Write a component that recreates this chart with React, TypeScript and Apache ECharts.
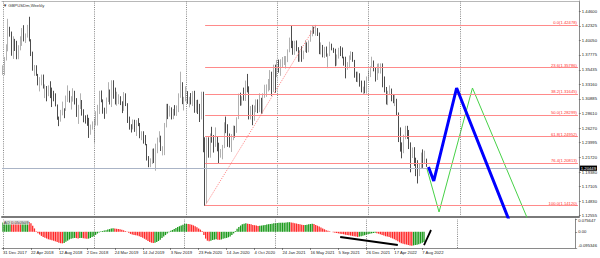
import { useEffect, useRef } from 'react';
import * as echarts from 'echarts';

// ---- data (weekly GBPUSD bars, index 0 = week of 31 Dec 2017) ----
const firstOpen = 1.3510;
const closes = [
  1.3565, 1.3725, 1.3865, 1.4155, 1.4140, 1.3820, 1.4020, 1.3940, 1.3770, 1.3850,
  1.3950, 1.4140, 1.4010, 1.4090, 1.4240, 1.4010, 1.3775, 1.3540, 1.3540, 1.3465,
  1.3310, 1.3355, 1.3410, 1.3265, 1.3265, 1.3200, 1.3285, 1.3235, 1.3135, 1.3115,
  1.2975, 1.2760, 1.2740, 1.2835, 1.2925, 1.2920, 1.3070, 1.3070, 1.3035, 1.3115,
  1.3155, 1.3040, 1.2815, 1.2970, 1.3000, 1.2830, 1.2805, 1.2740, 1.2730, 1.2585,
  1.2635, 1.2720, 1.2750, 1.2840, 1.2885, 1.3195, 1.3075, 1.2940, 1.2890, 1.3045,
  1.3190, 1.3005, 1.3290, 1.3210, 1.3035, 1.3050, 1.3085, 1.3000, 1.2915, 1.3185,
  1.3005, 1.2720, 1.2655, 1.2625, 1.2735, 1.2585, 1.2740, 1.2700, 1.2520, 1.2575,
  1.2475, 1.2375, 1.2165, 1.2035, 1.2145, 1.2290, 1.2160, 1.2290, 1.2475, 1.2475,
  1.2290, 1.2330, 1.2665, 1.2985, 1.2830, 1.2940, 1.2780, 1.2895, 1.2840, 1.2935,
  1.3145, 1.3330, 1.3015, 1.3080, 1.3080, 1.3065, 1.3075, 1.3070, 1.3200, 1.2890,
  1.3050, 1.2960, 1.2825, 1.3050, 1.2275, 1.1630, 1.2465, 1.2270, 1.2520, 1.2495,
  1.2365, 1.2485, 1.2395, 1.2130, 1.2200, 1.2345, 1.2660, 1.2555, 1.2350, 1.2335,
  1.2485, 1.2615, 1.2565, 1.2790, 1.3085, 1.3055, 1.3090, 1.3085, 1.3355, 1.3275,
  1.2790, 1.2915, 1.2745, 1.2940, 1.3050, 1.2915, 1.3070, 1.2945, 1.3150, 1.3190,
  1.3285, 1.3330, 1.3435, 1.3225, 1.3585, 1.3550, 1.3670, 1.3565, 1.3590, 1.3685,
  1.3705, 1.3730, 1.3850, 1.4010, 1.3925, 1.3840, 1.3930, 1.3865, 1.3790, 1.3830,
  1.3710, 1.3840, 1.3875, 1.3820, 1.3995, 1.4085, 1.4185, 1.4150, 1.4155, 1.4110,
  1.3805, 1.3885, 1.3825, 1.3890, 1.3755, 1.3760, 1.3895, 1.3875, 1.3865, 1.3620,
  1.3760, 1.3865, 1.3835, 1.3735, 1.3675, 1.3585, 1.3615, 1.3745, 1.3755, 1.3680,
  1.3495, 1.3410, 1.3435, 1.3320, 1.3265, 1.3265, 1.3235, 1.3400, 1.3525, 1.3590,
  1.3680, 1.3550, 1.3395, 1.3530, 1.3560, 1.3590, 1.3410, 1.3200, 1.3030, 1.3180,
  1.3185, 1.3110, 1.3035, 1.3065, 1.2835, 1.2575, 1.2335, 1.2250, 1.2490, 1.2625,
  1.2490, 1.2310, 1.2260, 1.2265, 1.2090, 1.2030, 1.1870, 1.2005, 1.2165, 1.2075,
  1.2140, 1.2045,
];
const highs = [
  1.3615, 1.3745, 1.3945, 1.4345, 1.4220, 1.4145, 1.4070, 1.4030, 1.4000, 1.3930,
  1.4070, 1.4200, 1.4245, 1.4115, 1.4250, 1.4377, 1.4025, 1.3830, 1.3620, 1.3615,
  1.3480, 1.3430, 1.3470, 1.3470, 1.3315, 1.3290, 1.3300, 1.3365, 1.3265, 1.3215,
  1.3175, 1.3000, 1.2810, 1.2915, 1.3045, 1.2940, 1.3140, 1.3300, 1.3215, 1.3130,
  1.3255, 1.3215, 1.3100, 1.2995, 1.3175, 1.3070, 1.2925, 1.2830, 1.2840, 1.2790,
  1.2685, 1.2735, 1.2780, 1.2895, 1.2995, 1.3215, 1.3220, 1.3080, 1.2950, 1.3110,
  1.3350, 1.3235, 1.3380, 1.3380, 1.3265, 1.3200, 1.3160, 1.3130, 1.3050, 1.3195,
  1.3175, 1.3020, 1.2810, 1.2690, 1.2765, 1.2760, 1.2755, 1.2785, 1.2710, 1.2580,
  1.2580, 1.2520, 1.2380, 1.2190, 1.2155, 1.2305, 1.2310, 1.2385, 1.2480, 1.2580,
  1.2510, 1.2345, 1.2710, 1.3010, 1.3010, 1.2980, 1.2955, 1.2930, 1.2990, 1.2985,
  1.3175, 1.3515, 1.3350, 1.3120, 1.3285, 1.3210, 1.3120, 1.3180, 1.3210, 1.3215,
  1.3070, 1.3075, 1.3010, 1.3200, 1.3200, 1.2485, 1.2485, 1.2485, 1.2545, 1.2650,
  1.2520, 1.2640, 1.2500, 1.2400, 1.2300, 1.2365, 1.2720, 1.2810, 1.2690, 1.2545,
  1.2535, 1.2670, 1.2665, 1.2800, 1.3170, 1.3185, 1.3130, 1.3265, 1.3375, 1.3480,
  1.3285, 1.2975, 1.2995, 1.2985, 1.3080, 1.3080, 1.3175, 1.3105, 1.3175, 1.3310,
  1.3315, 1.3400, 1.3540, 1.3515, 1.3625, 1.3625, 1.3700, 1.3705, 1.3710, 1.3745,
  1.3760, 1.3760, 1.3865, 1.4050, 1.4241, 1.4000, 1.4000, 1.4005, 1.3900, 1.3850,
  1.3915, 1.3845, 1.4010, 1.3975, 1.4005, 1.4165, 1.4235, 1.4220, 1.4250, 1.4200,
  1.4130, 1.3975, 1.3935, 1.3905, 1.3910, 1.3800, 1.3985, 1.3955, 1.3890, 1.3875,
  1.3785, 1.3890, 1.3915, 1.3895, 1.3750, 1.3750, 1.3665, 1.3770, 1.3835, 1.3825,
  1.3700, 1.3515, 1.3515, 1.3490, 1.3375, 1.3280, 1.3375, 1.3440, 1.3535, 1.3600,
  1.3750, 1.3690, 1.3585, 1.3640, 1.3645, 1.3645, 1.3645, 1.3440, 1.3275, 1.3215,
  1.3300, 1.3250, 1.3165, 1.3150, 1.3090, 1.2875, 1.2640, 1.2405, 1.2525, 1.2665,
  1.2665, 1.2600, 1.2405, 1.2325, 1.2330, 1.2165, 1.2125, 1.2065, 1.2245, 1.2295,
  1.2275, 1.2150,
];
const lows = [
  1.3465, 1.3460, 1.3690, 1.3835, 1.4065, 1.3765, 1.3715, 1.3840, 1.3710, 1.3710,
  1.3850, 1.3920, 1.3990, 1.3965, 1.4050, 1.3990, 1.3760, 1.3530, 1.3450, 1.3450,
  1.3300, 1.3205, 1.3300, 1.3250, 1.3100, 1.3050, 1.3130, 1.3100, 1.2960, 1.3050,
  1.2970, 1.2760, 1.2660, 1.2730, 1.2830, 1.2785, 1.2900, 1.3040, 1.3030, 1.2920,
  1.3045, 1.3000, 1.2805, 1.2695, 1.2930, 1.2825, 1.2720, 1.2700, 1.2665, 1.2475,
  1.2525, 1.2605, 1.2400, 1.2670, 1.2670, 1.2850, 1.3035, 1.2855, 1.2775, 1.2855,
  1.3040, 1.3000, 1.2960, 1.3090, 1.3000, 1.2980, 1.3005, 1.2990, 1.2865, 1.2900,
  1.2975, 1.2710, 1.2605, 1.2560, 1.2610, 1.2570, 1.2505, 1.2660, 1.2470, 1.2440,
  1.2385, 1.2360, 1.2120, 1.2015, 1.2015, 1.2065, 1.2080, 1.1960, 1.2235, 1.2405,
  1.2270, 1.2200, 1.2205, 1.2640, 1.2770, 1.2810, 1.2765, 1.2770, 1.2825, 1.2820,
  1.2880, 1.3105, 1.3005, 1.2905, 1.3050, 1.3010, 1.2955, 1.3000, 1.2975, 1.2870,
  1.2870, 1.2850, 1.2725, 1.2765, 1.2250, 1.1409, 1.1450, 1.2165, 1.2165, 1.2400,
  1.2245, 1.2335, 1.2265, 1.2075, 1.2165, 1.2140, 1.2315, 1.2550, 1.2335, 1.2325,
  1.2255, 1.2440, 1.2480, 1.2555, 1.2770, 1.2980, 1.2985, 1.3060, 1.3055, 1.3190,
  1.2765, 1.2765, 1.2675, 1.2745, 1.2880, 1.2865, 1.2880, 1.2855, 1.2855, 1.3105,
  1.3120, 1.3205, 1.3225, 1.3135, 1.3195, 1.3185, 1.3430, 1.3500, 1.3450, 1.3580,
  1.3620, 1.3565, 1.3665, 1.3820, 1.3885, 1.3780, 1.3780, 1.3835, 1.3670, 1.3670,
  1.3670, 1.3710, 1.3825, 1.3810, 1.3820, 1.3985, 1.4070, 1.4110, 1.4080, 1.4075,
  1.3790, 1.3785, 1.3740, 1.3730, 1.3750, 1.3570, 1.3760, 1.3850, 1.3810, 1.3600,
  1.3610, 1.3720, 1.3760, 1.3725, 1.3610, 1.3410, 1.3545, 1.3570, 1.3700, 1.3670,
  1.3420, 1.3355, 1.3350, 1.3280, 1.3190, 1.3160, 1.3175, 1.3170, 1.3370, 1.3430,
  1.3580, 1.3520, 1.3360, 1.3385, 1.3490, 1.3485, 1.3270, 1.3190, 1.3000, 1.2990,
  1.3165, 1.3050, 1.3020, 1.2975, 1.2820, 1.2410, 1.2260, 1.2155, 1.2235, 1.2455,
  1.2460, 1.2300, 1.1935, 1.2160, 1.2035, 1.1875, 1.1760, 1.1875, 1.1990, 1.2005,
  1.2065, 1.2020,
];
// Awesome-oscillator style histogram values
const aoValues = [
  0.055, 0.057, 0.061, 0.064, 0.066, 0.064,
  0.062, 0.061, 0.059, 0.057, 0.055, 0.057, 0.058, 0.059, 0.061,
  0.058, 0.050, 0.036, 0.020, 0.004,
  -0.008, -0.016, -0.024, -0.030, -0.035, -0.040, -0.044, -0.047, -0.050, -0.053, -0.056, -0.060, -0.064, -0.067, -0.068, -0.066,
  -0.059, -0.052, -0.045, -0.041, -0.038, -0.036, -0.037, -0.039, -0.037, -0.036, -0.038, -0.040, -0.041, -0.040, -0.036,
  -0.031, -0.026, -0.018, -0.010, -0.004, 0.003,
  0.005, 0.008, 0.010, 0.013, 0.016, 0.019, 0.021, 0.020, 0.018, 0.016, 0.015, 0.012, 0.009, 0.005,
  -0.001, -0.006, -0.012, -0.016, -0.018, -0.020,
  -0.022, -0.026, -0.030, -0.035, -0.041, -0.047, -0.054, -0.060, -0.064, -0.066, -0.064, -0.060, -0.054, -0.046,
  -0.037, -0.028, -0.019, -0.010, -0.002, 0.006,
  0.011, 0.017, 0.022, 0.028, 0.033, 0.038, 0.042, 0.046, 0.048, 0.046, 0.044, 0.042,
  0.038, 0.033, 0.027, 0.020, 0.013, 0.005,
  -0.018, -0.040, -0.052, -0.055, -0.053, -0.048,
  -0.046, -0.044, -0.046, -0.047, -0.045, -0.041, -0.038, -0.036, -0.032, -0.027,
  -0.018, -0.009, 0.005, 0.018,
  0.028, 0.037, 0.044, 0.048, 0.050, 0.048,
  0.046, 0.044, 0.041, 0.039, 0.037, 0.035,
  0.036, 0.037, 0.039, 0.041, 0.043, 0.045, 0.046, 0.048, 0.050, 0.051, 0.052, 0.053, 0.054, 0.054,
  0.054, 0.055, 0.057, 0.057, 0.055, 0.053, 0.051, 0.049, 0.046, 0.044, 0.042, 0.040,
  0.041, 0.042, 0.044, 0.046, 0.047, 0.046,
  0.041, 0.036, 0.031, 0.026, 0.020, 0.015, 0.010, 0.006, 0.003, 0.000,
  -0.003, -0.005, -0.007, -0.009, -0.011, -0.013, -0.015, -0.017, -0.019, -0.020, -0.022, -0.024, -0.026, -0.028, -0.030,
  -0.028, -0.026, -0.023, -0.020, -0.017, -0.014, -0.011, -0.009, -0.007, -0.006, -0.008,
  -0.011, -0.014, -0.018, -0.022, -0.026, -0.028, -0.031, -0.035,
  -0.039, -0.044, -0.050, -0.056, -0.062, -0.067, -0.071, -0.073, -0.075, -0.078, -0.080, -0.082,
  -0.080, -0.078, -0.076, -0.073, -0.069, -0.064, -0.060,
];
const xTickLabels = [
  '31 Dec 2017', '22 Apr 2018', '12 Aug 2018', '2 Dec 2018', '24 Mar 2019', '14 Jul 2019',
  '3 Nov 2019', '23 Feb 2020', '14 Jun 2020', '4 Oct 2020', '24 Jan 2021', '16 May 2021',
  '5 Sep 2021', '26 Dec 2021', '17 Apr 2022', '7 Aug 2022',
];
const xTickStep = 16;
const priceTicks = [
  1.44600, 1.42325, 1.40050, 1.37775, 1.35435, 1.33160, 1.30885, 1.28610,
  1.26270, 1.23995, 1.21720, 1.19380, 1.17105, 1.14830, 1.12555,
];
const aoTicks = [0.075647, 0, -0.095346];
const fibRatios = [0, 23.6, 38.2, 50, 61.8, 76.4, 100];
const fibPrices = [1.42478, 1.35786, 1.31645, 1.28299, 1.24952, 1.20813, 1.14120];
const fibLowBar = 115;
const fibHighBar = 178;
const currentPrice = 1.20449;
const yearGridBars = [0, 52, 104, 156, 208, 260];
const blueProjection = [[242, 1.2019], [245, 1.1799], [258, 1.3259], [290, 1.1030]];
const greenProjection = [[241, 1.2003], [248, 1.1312], [267, 1.3259], [301, 1.1030]];
const aoTrendLower = [[193, -0.0305], [226, -0.0777]];
const aoTrendUp = [[241, -0.0777], [245, 0.0108]];
const totalBars = 328;
const priceMin = 1.12337;
const priceMax = 1.46246;
const aoMin = -0.095346;
const aoMax = 0.075647;

export default function App() {
  const ref = useRef<HTMLDivElement>(null);
  useEffect(() => {
    if (!ref.current) return;
    const chart = echarts.init(ref.current, null, { renderer: 'svg' });
    const font = 'Liberation Sans, Arial, sans-serif';
    const fs = 4.2;
    const categories = Array.from({ length: totalBars }, (_, i) => String(i));
    const candles = closes.map((c, i) => [i === 0 ? firstOpen : closes[i - 1], c, lows[i], highs[i]]);
    const aoData = aoValues.map((v, i) => ({
      value: v,
      itemStyle: { color: i > 0 && v < aoValues[i - 1] ? '#ff2a2a' : '#1c9a1c' },
    }));
    const gridLineItems = yearGridBars.map((b) => ({
      xAxis: String(b),
      lineStyle: { color: '#6a6a6a', type: [1, 1.2], width: 0.8 },
      label: { show: false },
    }));
    const fibItems = fibPrices.map((p, k) => [
      {
        coord: [String(fibLowBar), p],
        lineStyle: { color: '#ff8a8a', type: 'solid', width: 1 },
        label: {
          show: true,
          position: 'insideEndTop',
          formatter: `${fibRatios[k].toFixed(1)}(${p.toFixed(5)})`,
          color: '#ff3030',
          fontSize: fs,
          fontFamily: font,
          distance: [1, 0.6],
        },
      },
      { coord: [String(totalBars - 1), p] },
    ]);
    const diagonal = [
      {
        coord: [String(fibLowBar), fibPrices[fibPrices.length - 1]],
        lineStyle: { color: '#ff7070', type: [1.2, 1.2], width: 0.8 },
        label: { show: false },
      },
      { coord: [String(fibHighBar), fibPrices[0]] },
    ];
    const priceLine = {
      yAxis: currentPrice,
      lineStyle: { color: '#aab4c6', type: 'solid', width: 1 },
      label: {
        show: true,
        position: 'end',
        formatter: currentPrice.toFixed(5),
        backgroundColor: '#000',
        color: '#fff',
        fontSize: fs,
        fontFamily: font,
        padding: [0.6, 1, 0.6, 1],
        distance: 1,
      },
    };
    const showTick = (i: number) => i % xTickStep === 0 && i / xTickStep < xTickLabels.length;
    const aoLabel = (v: number) => {
      if (v === 0) return '0.00';
      if (v === aoMax) return `{top|${v}}`;
      return `{bot|${v}}`;
    };

    chart.setOption({
      animation: false,
      backgroundColor: '#ffffff',
      grid: [
        { left: 2, top: 1, width: 578, height: 216 },
        { left: 2, top: 219, width: 578, height: 29 },
      ],
      xAxis: [
        {
          type: 'category', gridIndex: 0, data: categories, position: 'bottom',
          axisLine: { show: true, onZero: false, lineStyle: { color: '#7a7a7a', width: 2 } },
          axisTick: { show: false }, axisLabel: { show: false }, splitLine: { show: false },
        },
        {
          type: 'category', gridIndex: 1, data: categories, position: 'bottom',
          axisLine: { show: true, onZero: false, lineStyle: { color: '#8a8a8a', width: 1 } },
          axisTick: { show: true, alignWithLabel: true, interval: (i: number) => showTick(i), length: 2, lineStyle: { color: '#444', width: 0.6 } },
          axisLabel: {
            show: true,
            interval: (i: number) => showTick(i),
            formatter: (_v: string, i: number) => xTickLabels[i / xTickStep] ?? '',
            align: 'left',
            fontSize: fs,
            fontFamily: font,
            color: '#222',
            margin: 2,
            hideOverlap: false,
          },
          splitLine: { show: false },
        },
        {
          type: 'category', gridIndex: 0, data: categories, position: 'top',
          axisLine: { show: true, onZero: false, lineStyle: { color: '#b8b8b8', width: 1 } },
          axisTick: { show: false }, axisLabel: { show: false }, splitLine: { show: false },
        },
      ],
      yAxis: [
        {
          type: 'value', gridIndex: 0, position: 'right', min: priceMin, max: priceMax,
          axisLine: { show: true, lineStyle: { color: '#8a8a8a', width: 1 } },
          axisTick: { show: true, length: 2, customValues: priceTicks, lineStyle: { color: '#555', width: 0.6 } },
          axisLabel: {
            show: true, customValues: priceTicks, formatter: (v: number) => v.toFixed(5),
            fontSize: fs, fontFamily: font, color: '#222', margin: 3,
          },
          splitLine: { show: false },
        },
        {
          type: 'value', gridIndex: 1, position: 'right', min: aoMin, max: aoMax,
          axisLine: { show: true, lineStyle: { color: '#8a8a8a', width: 1 } },
          axisTick: { show: true, length: 2, customValues: aoTicks, lineStyle: { color: '#555', width: 0.6 } },
          axisLabel: {
            show: true, customValues: aoTicks,
            formatter: aoLabel,
            fontSize: fs, fontFamily: font, color: '#222', margin: 3,
            rich: {
              top: { fontSize: fs, fontFamily: font, color: '#222', padding: [3.4, 0, 0, 0] },
              bot: { fontSize: fs, fontFamily: font, color: '#222', padding: [0, 0, 6, 0] },
            },
          },
          splitLine: { show: false },
        },
      ],
      series: [
        {
          type: 'candlestick', xAxisIndex: 0, yAxisIndex: 0, data: candles,
          barMaxWidth: 1.1,
          itemStyle: { color: '#8f8f8f', color0: '#000000', borderColor: '#8f8f8f', borderColor0: '#000000', borderWidth: 0.7 },
          markLine: {
            silent: true, symbol: ['none', 'none'], animation: false,
            data: [...gridLineItems, priceLine, ...fibItems, diagonal],
          },
        },
        {
          type: 'line', xAxisIndex: 0, yAxisIndex: 0, showSymbol: false, symbol: 'none',
          data: blueProjection.map(([b, p]) => [String(b), p]),
          lineStyle: { color: '#0000ff', width: 3 }, clip: true, z: 5,
        },
        {
          type: 'line', xAxisIndex: 0, yAxisIndex: 0, showSymbol: false, symbol: 'none',
          data: greenProjection.map(([b, p]) => [String(b), p]),
          lineStyle: { color: '#47d147', width: 1 }, clip: true, z: 4,
        },
        {
          type: 'bar', xAxisIndex: 1, yAxisIndex: 1, data: aoData, barWidth: 1.3,
          markLine: {
            silent: true, symbol: ['none', 'none'], animation: false,
            data: gridLineItems,
          },
        },
        {
          type: 'line', xAxisIndex: 1, yAxisIndex: 1, showSymbol: false, symbol: 'none',
          data: aoTrendLower.map(([b, v]) => [String(b), v]),
          lineStyle: { color: '#000', width: 1.8 }, z: 5,
        },
        {
          type: 'line', xAxisIndex: 1, yAxisIndex: 1, showSymbol: false, symbol: 'none',
          data: aoTrendUp.map(([b, v]) => [String(b), v]),
          lineStyle: { color: '#000', width: 1.8 }, z: 5,
        },
      ],
      graphic: [
        {
          type: 'text', left: 3, top: 3,
          style: { text: '▼ GBPUSDm,Weekly', fontSize: fs, fontFamily: font, fill: '#333' },
        },
        {
          type: 'text', left: 3, top: 220,
          style: {
            text: 'AO 0.050509', fontSize: fs, fontFamily: font, fill: '#444',
            backgroundColor: 'rgba(232,232,232,0.85)', padding: [0.3, 0.8],
          },
          z: 10,
        },
      ],
    });
    return () => chart.dispose();
  }, []);
  return (
    <div
      ref={ref}
      style={{ position: 'absolute', left: 0, top: 0, width: 600, height: 258, background: '#fff' }}
    />
  );
}
